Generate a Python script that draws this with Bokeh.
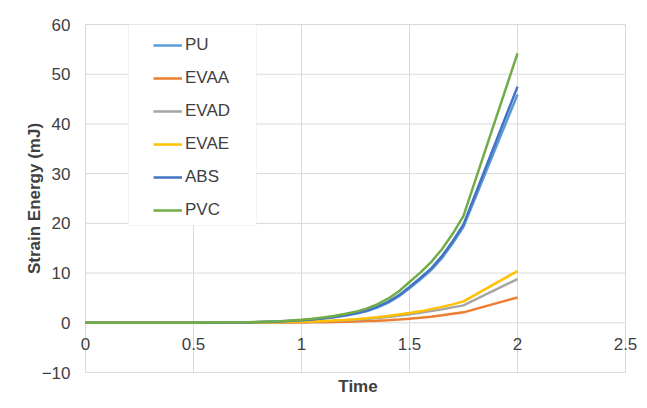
from bokeh.plotting import figure
from bokeh.models import (Range1d, FixedTicker, Legend, LegendItem, BoxAnnotation,
                          LinearAxis)
from bokeh.embed import file_html
from bokeh.resources import INLINE

# ---- data ----
time = [0, 0.25, 0.5, 0.75, 0.9,
        1.0, 1.05, 1.1, 1.15, 1.2, 1.25, 1.3, 1.35, 1.4, 1.45, 1.5, 1.55, 1.6, 1.65, 1.7, 1.75,
        2.0]
PU   = [0, 0, 0.02, 0.08, 0.25,
        0.48, 0.65, 0.86, 1.12, 1.43, 1.8, 2.3, 3.05, 4.0, 5.3, 6.95, 8.7, 10.6, 13.0, 16.0, 19.3,
        45.9]
EVAA = [0, 0, 0.01, 0.02, 0.04,
        0.08, 0.1, 0.13, 0.17, 0.22, 0.27, 0.34, 0.42, 0.52, 0.65, 0.82, 1.0, 1.22, 1.5, 1.8, 2.1,
        5.1]
EVAD = [0, 0, 0.01, 0.03, 0.08,
        0.17, 0.23, 0.3, 0.39, 0.5, 0.63, 0.78, 0.97, 1.18, 1.42, 1.7, 2.0, 2.35, 2.7, 3.1, 3.5,
        8.8]
EVAE = [0, 0, 0.01, 0.03, 0.09,
        0.2, 0.27, 0.35, 0.45, 0.58, 0.73, 0.9, 1.12, 1.38, 1.65, 1.95, 2.3, 2.75, 3.2, 3.7, 4.3,
        10.4]
ABS  = [0, 0, 0.02, 0.08, 0.27,
        0.5, 0.68, 0.9, 1.17, 1.5, 1.9, 2.4, 3.2, 4.2, 5.5, 7.2, 9.0, 10.9, 13.4, 16.4, 19.8,
        47.5]
PVC  = [0, 0, 0.02, 0.1, 0.3,
        0.6, 0.8, 1.05, 1.35, 1.75, 2.2, 2.85, 3.7, 4.85, 6.3, 8.2, 10.1, 12.2, 14.8, 17.9, 21.5,
        54.2]

series_names = ["PU", "EVAA", "EVAD", "EVAE", "ABS", "PVC"]
series_values = [PU, EVAA, EVAD, EVAE, ABS, PVC]
series_colors = ["#5B9BD5", "#ED7D31", "#A5A5A5", "#FFC000", "#4472C4", "#70AD47"]

xticks = [0, 0.5, 1, 1.5, 2, 2.5]
yticks = [-10, 0, 10, 20, 30, 40, 50, 60]

FONT = "Liberation Sans"
TXT = "#404040"
GRID = "#D9D9D9"

# pixel geometry: x 0..2.5 spans px 85..625, y -10..60 spans px 372..24
PX_X = 540 / 2.5
PX_Y = 348 / 70
PAD_L, PAD_R, PAD_V = 10, 15, 1

p = figure(width=647, height=408, output_backend="svg", toolbar_location=None,
           x_range=Range1d(xticks[0] - PAD_L / PX_X, xticks[-1] + PAD_R / PX_X),
           y_range=Range1d(yticks[0] - PAD_V / PX_Y, yticks[-1] + PAD_V / PX_Y),
           min_border_left=85 - PAD_L, min_border_right=647 - 625 - PAD_R,
           min_border_top=24 - PAD_V, min_border_bottom=408 - 372 - PAD_V)
p.background_fill_color = "white"
p.border_fill_color = "white"
p.outline_line_color = None
p.xgrid.visible = False
p.ygrid.visible = False

# grid drawn over the 0..2.5 x -10..60 box
p.segment(x0=[xticks[0]] * len(yticks), x1=[xticks[-1]] * len(yticks), y0=yticks, y1=yticks,
          line_color=GRID, line_width=1)
p.segment(x0=xticks, x1=xticks, y0=[yticks[0]] * len(xticks), y1=[yticks[-1]] * len(xticks),
          line_color=GRID, line_width=1)

# y axis
p.yaxis.ticker = FixedTicker(ticks=yticks)
p.yaxis.axis_line_color = None
p.yaxis.major_tick_line_color = None
p.yaxis.minor_tick_line_color = None
p.yaxis.major_tick_out = 0
p.yaxis.major_tick_in = 0
p.yaxis.major_label_standoff = 15 - PAD_L
p.yaxis.major_label_text_font = FONT
p.yaxis.major_label_text_font_size = "17px"
p.yaxis.major_label_text_color = TXT
p.yaxis.axis_label = "Strain Energy (mJ)"
p.yaxis.axis_label_text_font = FONT
p.yaxis.axis_label_text_font_size = "17px"
p.yaxis.axis_label_text_font_style = "bold"
p.yaxis.axis_label_text_color = TXT
p.yaxis.axis_label_standoff = -5

# main x axis: tick labels on the y = 0 line
xa = p.xaxis[0]
xa.ticker = FixedTicker(ticks=xticks)
xa.fixed_location = 0
xa.axis_line_color = None
xa.major_tick_line_color = None
xa.minor_tick_line_color = None
xa.major_tick_out = 0
xa.major_tick_in = 0
xa.major_label_standoff = 15
xa.major_label_text_font = FONT
xa.major_label_text_font_size = "17px"
xa.major_label_text_color = TXT

# title-only x axis
ta = LinearAxis(ticker=FixedTicker(ticks=[]), axis_label="Time",
                axis_line_color=None, major_tick_line_color=None,
                minor_tick_line_color=None, major_tick_out=0, major_tick_in=0,
                axis_label_text_font=FONT, axis_label_text_font_size="17px",
                axis_label_text_font_style="bold", axis_label_text_color=TXT,
                axis_label_standoff=3)
p.add_layout(ta, "below")

items = []
for name, vals, col in zip(series_names, series_values, series_colors):
    r = p.line(time, vals, line_color=col, line_width=2.5)
    items.append(LegendItem(label=name, renderers=[r]))

# legend frame (px 128..256 x 24..225)
box = BoxAnnotation(left=(128 - 85) / PX_X, right=(256 - 85) / PX_X,
                    top=yticks[-1], bottom=yticks[-1] - (225 - 24) / PX_Y,
                    fill_color="white", fill_alpha=1.0, line_color=GRID, line_width=1)
p.add_layout(box)

legend = Legend(items=items, location=(68 + PAD_L, 152 + PAD_V), orientation="vertical",
                glyph_width=29, glyph_height=20, label_height=20, spacing=13,
                padding=8, margin=0, label_standoff=3,
                label_text_font=FONT, label_text_font_size="17px",
                label_text_color=TXT, background_fill_alpha=0,
                border_line_color=None)
p.add_layout(legend)

open("out.html", "w").write(file_html(p, INLINE))
